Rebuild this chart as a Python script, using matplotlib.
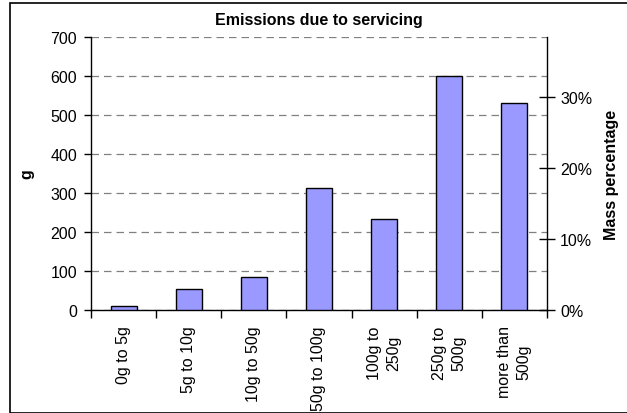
import numpy as np
import matplotlib.pyplot as plt
from matplotlib.patches import Rectangle

plt.rcParams['font.family'] = ['Liberation Sans', 'DejaVu Sans']

categories = ["0g to 5g", "5g to 10g", "10g to 50g", "50g to 100g",
              "100g to\n250g", "250g to\n500g", "more than\n500g"]
emissions = [10, 53, 85, 313, 234, 599, 530]
left_ticks = [0, 100, 200, 300, 400, 500, 600, 700]
right_ticks = [0.0, 0.1, 0.2, 0.3]
right_labels = ["0%", "10%", "20%", "30%"]

W, H = 627, 414
fs = 11.5
fig = plt.figure(figsize=(W / 100, H / 100), dpi=100)
ax = fig.add_axes([91 / W, 1 - 311 / H, (547 - 91) / W, (311 - 38) / H])

x = np.arange(len(categories))
ax.bar(x, emissions, width=0.4, color="#9999FF", edgecolor="black",
       linewidth=1.0, zorder=3)
ax.set_xlim(-0.5, len(categories) - 0.5)
ax.set_ylim(0, 700)
ax.set_yticks(left_ticks)
ax.yaxis.grid(True, color="#808080", linestyle=(0, (6, 4)), linewidth=0.9)
ax.set_axisbelow(True)

# category ticks sit on the boundaries, labels at the centres
ax.set_xticks(np.arange(len(categories) + 1) - 0.5)
ax.set_xticklabels([])
ax.set_xticks(x, minor=True)
ax.set_xticklabels(categories, minor=True, rotation=90, va="top",
                   ha="center", multialignment="center", fontsize=fs,
                   linespacing=1.4)
ax.tick_params(axis="x", which="minor", length=0, pad=11)
ax.tick_params(axis="x", which="major", length=5.5, width=1, direction="out")
ax.tick_params(axis="y", length=5, width=1, direction="out", labelsize=fs, pad=5)

for s in ["top", "right"]:
    ax.spines[s].set_visible(False)
ax.spines["left"].set_linewidth(1)
ax.spines["bottom"].set_linewidth(1)

ax.set_ylabel("g", fontweight="bold", fontsize=fs)
ax.yaxis.set_label_coords((34 - 91) / (547 - 91), 0.5)
ax.set_title("Emissions due to servicing", fontweight="bold", fontsize=fs, pad=9)

ax2 = ax.twinx()
ax2.set_ylim(0, 700 / sum(emissions))
ax2.set_yticks(right_ticks)
ax2.set_yticklabels(right_labels)
ax2.tick_params(axis="y", length=11, width=1, direction="inout", labelsize=fs, pad=4)
for s in ["top", "left", "bottom"]:
    ax2.spines[s].set_visible(False)
ax2.spines["right"].set_linewidth(1)
ax2.set_ylabel("Mass percentage", fontweight="bold", fontsize=fs, rotation=90)
ax2.yaxis.set_label_coords((604 - 91) / (547 - 91), 0.5)

fig.patches.append(Rectangle((10 / W, 0), 1, 1 - 4 / H, transform=fig.transFigure,
                             fill=False, edgecolor="black", linewidth=1.2))

fig.savefig("out.png", dpi=100)
